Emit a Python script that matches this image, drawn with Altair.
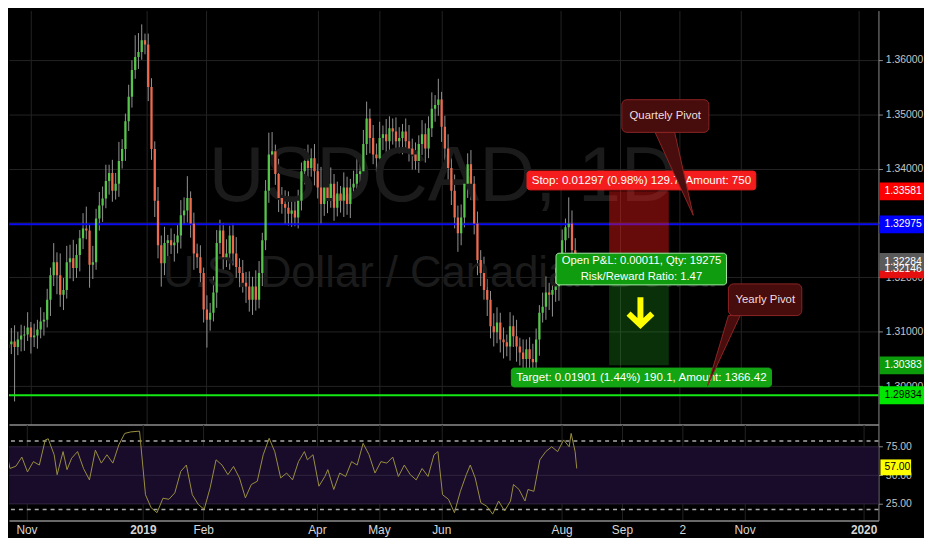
import altair as alt
import pandas as pd

# USDCAD daily candles, bar index 0 = first visible bar (late Oct 2018)
first_open = 1.3070
closes = [
    1.3077, 1.3082, 1.3072, 1.3086, 1.3093, 1.3095, 1.3108, 1.3090, 1.3093, 1.3104,
    1.3119, 1.3122, 1.3159, 1.3204, 1.3228, 1.3204, 1.3168, 1.3177, 1.3228, 1.3235,
    1.3217, 1.3241, 1.3272, 1.3290, 1.3286, 1.3223, 1.3228, 1.3308, 1.3332, 1.3345,
    1.3377, 1.3392, 1.3359, 1.3372, 1.3414, 1.3436, 1.3487, 1.3532, 1.3581, 1.3605,
    1.3614, 1.3636, 1.3628, 1.3550, 1.3436, 1.3341, 1.3259, 1.3226, 1.3263, 1.3268,
    1.3259, 1.3264, 1.3277, 1.3314, 1.3323, 1.3346, 1.3299, 1.3244, 1.3237, 1.3208,
    1.3141, 1.3122, 1.3135, 1.3172, 1.3263, 1.3286, 1.3237, 1.3244, 1.3277, 1.3244,
    1.3219, 1.3208, 1.3190, 1.3183, 1.3159, 1.3183, 1.3159, 1.3208, 1.3268, 1.3359,
    1.3426, 1.3432, 1.3390, 1.3346, 1.3335, 1.3328, 1.3317, 1.3323, 1.3310, 1.3341,
    1.3395, 1.3414, 1.3401, 1.3419, 1.3395, 1.3365, 1.3335, 1.3365, 1.3346, 1.3372,
    1.3328, 1.3354, 1.3341, 1.3365, 1.3335, 1.3365, 1.3372, 1.3390, 1.3395, 1.3445,
    1.3492, 1.3456, 1.3426, 1.3419, 1.3456, 1.3463, 1.3450, 1.3474, 1.3468, 1.3450,
    1.3456, 1.3468, 1.3450, 1.3437, 1.3426, 1.3414, 1.3445, 1.3463, 1.3437, 1.3474,
    1.3510, 1.3517, 1.3527, 1.3477, 1.3437, 1.3401, 1.3359, 1.3310, 1.3281, 1.3310,
    1.3372, 1.3408, 1.3372, 1.3299, 1.3232, 1.3208, 1.3177, 1.3159, 1.3110, 1.3099,
    1.3117, 1.3086, 1.3081, 1.3073, 1.3110, 1.3092, 1.3073, 1.3062, 1.3050, 1.3068,
    1.3050, 1.3044, 1.3086, 1.3135, 1.3146, 1.3172, 1.3168, 1.3177, 1.3183, 1.3208,
    1.3268, 1.3292, 1.3299, 1.3250, 1.32146,
]
# wick lengths in pips above / below the candle body
wick_up = [
    12, 25, 30, 14, 20, 16, 28, 10, 22, 18, 26, 14, 20, 14, 35, 18, 40, 22, 30, 25,
    34, 20, 15, 28, 40, 12, 30, 18, 25, 22, 30, 15, 24, 20, 35, 18, 14, 22, 18, 40,
    35, 29, 12, 20, 16, 14, 25, 18, 30, 10, 22, 16, 20, 28, 24, 40, 12, 20, 18, 22,
    10, 26, 18, 30, 24, 20, 14, 26, 18, 22, 30, 16, 24, 20, 28, 18, 30, 22, 14, 20,
    40, 35, 12, 28, 20, 25, 30, 18, 24, 20, 16, 22, 30, 18, 26, 14, 38, 20, 24, 30,
    18, 22, 14, 28, 20, 16, 24, 30, 18, 26, 31, 18, 24, 20, 30, 16, 28, 22, 18, 26,
    20, 14, 24, 30, 18, 22, 16, 26, 20, 22, 30, 18, 38, 14, 20, 26, 18, 30, 22, 24,
    16, 20, 26, 14, 22, 18, 30, 20, 16, 24, 28, 18, 22, 14, 26, 20, 30, 16, 24, 18,
    22, 28, 20, 14, 26, 30, 18, 22, 35, 24, 20, 16, 48, 24, 22,
]
wick_dn = [
    20, 18, 100, 15, 22, 28, 12, 30, 18, 24, 16, 26, 14, 30, 20, 35, 22, 28, 16, 30,
    24, 18, 30, 20, 16, 42, 26, 14, 22, 30, 18, 25, 20, 16, 24, 14, 22, 18, 20, 16,
    22, 14, 18, 26, 20, 30, 24, 43, 22, 28, 16, 30, 20, 24, 18, 22, 26, 30, 20, 18,
    24, 51, 20, 16, 28, 20, 26, 18, 30, 22, 20, 26, 18, 30, 22, 28, 20, 16, 24, 18,
    22, 16, 20, 26, 18, 30, 22, 24, 16, 20, 18, 24, 30, 16, 26, 20, 38, 22, 28, 18,
    24, 16, 22, 30, 20, 26, 18, 22, 16, 24, 20, 28, 18, 26, 16, 22, 30, 20, 24, 18,
    22, 30, 18, 24, 28, 16, 22, 20, 26, 18, 16, 24, 20, 28, 22, 30, 26, 20, 34, 22,
    18, 26, 30, 20, 28, 24, 18, 30, 22, 26, 20, 24, 30, 18, 26, 20, 28, 24, 18, 20,
    26, 22, 20, 30, 18, 24, 28, 40, 22, 26, 18, 22, 20, 16, 14,
]

# RSI readings (bar position, value)
rsi_bar = [
    0, 1.2, 2.1, 3.9, 5.7, 7.4, 9.2, 11.0, 12.8, 13.7,
    15.5, 16.4, 18.2, 19.4, 20.8, 22.6, 24.4, 26.2, 28.0, 29.8,
    31.5, 33.3, 35.1, 36.9, 38.7, 41.4, 43.2, 44.9, 46.7, 48.5,
    50.3, 52.1, 53.9, 55.6, 57.4, 59.2, 61.0, 62.8, 64.6, 66.4,
    68.2, 69.9, 71.7, 73.5, 75.3, 77.1, 78.9, 80.7, 82.4, 84.2,
    86.0, 87.8, 89.6, 91.4, 92.3, 94.0, 95.8, 97.6, 98.5, 100.3,
    102.1, 103.9, 105.7, 107.4, 109.2, 111.0, 112.8, 114.6, 116.4, 118.2,
    119.9, 121.7, 123.5, 125.3, 127.1, 128.9, 130.7, 131.9, 133.3, 135.1,
    136.9, 138.7, 140.5, 141.7, 143.2, 144.9, 146.7, 148.5, 150.3, 152.1,
    153.9, 154.8, 156.5, 158.3, 159.2, 161.0, 162.8, 164.6, 166.4, 168.2,
    170.0, 171.7, 172.3, 173.5, 174.0,
]
rsi_val = [
    70.8, 68, 56, 58, 66, 53, 62, 59, 81, 82,
    68, 50.6, 70.8, 55, 65, 70.8, 56, 46, 72, 60.7,
    68, 60.7, 76.6, 86.7, 88, 88.7, 33, 21.7, 17.3, 30,
    29, 34.7, 53.5, 59, 33, 24.6, 20.2, 39, 63.6, 59,
    50.6, 57.8, 47.7, 30.3, 42, 44.8, 68, 82.4, 70.8, 47.7,
    52, 46, 62, 70.8, 63.6, 68, 40.5, 49, 55, 37.6,
    52, 49, 62, 59, 78, 68, 52, 62, 60.7, 66,
    49, 59, 50.6, 46, 56, 49, 68, 70.8, 33, 29,
    17.3, 36, 50.6, 59, 47.7, 26, 23, 16, 27.5, 18.8,
    27.5, 42, 37.6, 27.5, 37.6, 36, 63.6, 70.8, 75, 70.8,
    81, 75, 86.7, 70.8, 56,
]
rsi_last = 57.00
rsi_band = [25, 75]
rsi_mid = 50
rsi_dash = [20, 80]

# time axis (bar positions) and its labels
x_ticks = [7.1, 42.4, 60.7, 95.2, 114.0, 132.9, 169.4, 187.7, 206.0, 224.9, 261.0]
x_names = ["Nov", "2019", "Feb", "Apr", "May", "Jun", "Aug", "Sep", "2", "Nov", "2020"]
year_ticks = [42.4, 261.0]
price_ticks = [1.30, 1.31, 1.32, 1.33, 1.34, 1.35, 1.36]
rsi_ticks = [25, 50, 75]

# levels and short position
quarterly_pivot = 1.32975
yearly_pivot = 1.29834
entry = 1.32284
stop = 1.33581
target = 1.30383
pos_from, pos_to = 184.4, 202.7

symbol_title = "USDCAD, 1D"
symbol_desc = "U.S. Dollar / Canadian Dollar"
stop_text = "Stop: 0.01297 (0.98%) 129.7, Amount: 750"
pnl_text = ["Open P&L: 0.00011, Qty: 19275", "Risk/Reward Ratio: 1.47"]
target_text = "Target: 0.01901 (1.44%) 190.1, Amount: 1366.42"
callout_text = ["Quartely Pivot", "Yearly Pivot"]

FONT = "Liberation Sans, Arial, sans-serif"
W, H1, H2 = 878, 418, 97
X_DOM = [1.8, 265.5]
P_DOM = [1.29296, 1.36903]
R_DOM = [10.4, 94.5]
GRID = "#232323"
FRAME = "#8c8c8c"

xs = alt.Scale(domain=X_DOM, nice=False, zero=False)
ps = alt.Scale(domain=P_DOM, nice=False, zero=False)
rs = alt.Scale(domain=R_DOM, nice=False, zero=False)

opens = [first_open] + closes[:-1]
candles = pd.DataFrame({"t": range(len(closes)), "open": opens, "close": closes})
body_hi = candles[["open", "close"]].max(axis=1)
body_lo = candles[["open", "close"]].min(axis=1)
candles["high"] = body_hi + pd.Series(wick_up) / 10000
candles["low"] = body_lo - pd.Series(wick_dn) / 10000
candles["col"] = ["#55c54b" if c >= o else "#ec6b4f" for o, c in zip(opens, closes)]

# same axis objects on every layer so the shared axes merge cleanly
x_main_axis = alt.Axis(values=x_ticks, labels=False, ticks=False, domain=True,
                       domainColor=FRAME, domainWidth=1.5, grid=True, gridColor=GRID, title=None)
y_main_axis = alt.Axis(orient="right", values=price_ticks, format=".5f", grid=True,
                       gridColor=GRID, domain=True, domainColor=FRAME, ticks=True,
                       tickColor="#8a8a8a", tickSize=4, labelColor="#c4c4c4",
                       labelFont=FONT, labelFontSize=10.5, labelPadding=3,
                       labelOverlap=False, labelFlush=False, title=None)

label_expr = " : ".join(f"datum.value == {v} ? '{n}'" for v, n in zip(x_ticks, x_names)) + " : ''"
bold_test = " || ".join(f"datum.value == {v}" for v in year_ticks)
x_rsi_axis = alt.Axis(values=x_ticks, labelExpr=label_expr, ticks=False, domain=True,
                      domainColor=FRAME, domainWidth=1.5, grid=True, gridColor=GRID,
                      labelColor="#d6d6d6", labelFont=FONT, labelFontSize=12, labelPadding=4,
                      labelOverlap=False, labelFlush=False,
                      labelFontWeight={"condition": {"test": bold_test, "value": "bold"}, "value": "normal"},
                      title=None)
y_rsi_axis = alt.Axis(orient="right", values=rsi_ticks, format=".2f", grid=False, domain=True,
                      domainColor=FRAME, ticks=True, tickColor="#8a8a8a", tickSize=4,
                      labelColor="#c4c4c4", labelFont=FONT, labelFontSize=10.5,
                      labelPadding=3, labelOverlap=False, labelFlush=False, title=None)


def TX(field):
    return alt.X(field, type="quantitative", scale=xs, axis=x_main_axis)


def PY(field):
    return alt.Y(field, type="quantitative", scale=ps, axis=y_main_axis)


def RX(field):
    return alt.X(field, type="quantitative", scale=xs, axis=x_rsi_axis)


def RY(field):
    return alt.Y(field, type="quantitative", scale=rs, axis=y_rsi_axis)


# ---------------- price panel ----------------
wicks = alt.Chart(candles).mark_rule(color="#949494", strokeWidth=1, clip=True).encode(
    x=TX("t"), y=PY("low"), y2="high",
)

mark_title = alt.Chart(pd.DataFrame({"txt": [symbol_title]})).mark_text(
    font=FONT, fontSize=78, color="#1b1b1b", baseline="alphabetic", align="center"
).encode(text="txt:N", x=alt.value(438), y=alt.value(192))

mark_desc = alt.Chart(pd.DataFrame({"txt": [symbol_desc]})).mark_text(
    font=FONT, fontSize=44, color="#1b1b1b", baseline="alphabetic", align="center"
).encode(text="txt:N", x=alt.value(438), y=alt.value(279))

levels = alt.Chart(pd.DataFrame({"price": [quarterly_pivot, yearly_pivot],
                                 "col": ["#0b0bf2", "#14e814"]})).mark_rule(strokeWidth=2).encode(
    y=PY("price"), color=alt.Color("col:N", scale=None),
)

zones = alt.Chart(pd.DataFrame({
    "x": [pos_from, pos_from], "x2": [pos_to, pos_to],
    "y": [entry, target], "y2": [stop, entry],
    "col": ["#ff1a1a", "#22c022"], "op": [0.40, 0.25],
})).mark_rect().encode(
    x=TX("x"), x2="x2", y=PY("y"), y2="y2",
    color=alt.Color("col:N", scale=None),
    opacity=alt.Opacity("op:Q", scale=None, legend=None),
)

bodies = alt.Chart(candles).mark_bar(size=2.3, clip=True).encode(
    x=TX("t"), y=PY("open"), y2="close",
    color=alt.Color("col:N", scale=None),
)

boxes = alt.Chart(pd.DataFrame({
    "x": [159.2, 168.1, 154.4], "x2": [229.4, 220.4, 234.2],
    "y": [1.33608, 1.31862, 1.29987], "y2": [1.33953, 1.32444, 1.30333],
    "fill": ["#f41c1c", "#0f9c0f", "#13a513"], "line": ["#f41c1c", "#a6e6a6", "#13a513"],
})).mark_rect(cornerRadius=3, strokeWidth=1).encode(
    x=TX("x"), x2="x2", y=PY("y"), y2="y2",
    fill=alt.Fill("fill:N", scale=None), stroke=alt.Stroke("line:N", scale=None),
)

box_text = alt.Chart(pd.DataFrame({
    "t": [194.3, 194.3, 194.3, 194.3],
    "p": [1.33782, 1.32300, 1.32010, 1.30160],
    "txt": [stop_text, pnl_text[0], pnl_text[1], target_text],
    "fs": [11.7, 11.4, 11.4, 11.7],
})).mark_text(font=FONT, color="#ffffff", align="center", baseline="middle").encode(
    x=TX("t"), y=PY("p"), text="txt:N",
    size=alt.Size("fs:Q", scale=None, legend=None),
)

arrow = alt.Chart(pd.DataFrame({"t": [194.0], "p": [1.3136]})).mark_point(
    shape="M0,-1L0,0.8M-0.8,0.1L0,0.85L0.8,0.1", size=900, filled=False,
    color="#ffff00", strokeWidth=6, opacity=1,
).encode(x=TX("t"), y=PY("p"))

wedges = alt.Chart(pd.DataFrame({
    "id": ["q", "q", "y", "y"],
    "p": [1.3314, 1.34665, 1.3001, 1.31298],
    "a": [210.2, 198.5, 214.6, 221.0],
    "b": [210.2, 204.5, 214.6, 224.6],
})).mark_area(orient="horizontal", color="#4a0d0d", stroke="#8c2424", strokeWidth=1, opacity=1).encode(
    y=PY("p"), x=TX("a"), x2="b", detail="id:N",
)

callouts = alt.Chart(pd.DataFrame({
    "x": [188.3, 221.0], "x2": [215.0, 243.5],
    "y": [1.34665, 1.31298], "y2": [1.35265, 1.31880],
})).mark_rect(cornerRadius=5, fill="#470c0c", stroke="#8c2424", strokeWidth=1).encode(
    x=TX("x"), x2="x2", y=PY("y"), y2="y2",
)

callout_labels = alt.Chart(pd.DataFrame({
    "t": [201.6, 232.3], "p": [1.34965, 1.31589], "txt": callout_text,
})).mark_text(font=FONT, fontSize=11.5, color="#f0dede", align="center", baseline="middle").encode(
    x=TX("t"), y=PY("p"), text="txt:N",
)

half = 9 * (P_DOM[1] - P_DOM[0]) / H1
tags_df = pd.DataFrame({
    "price": [stop, quarterly_pivot, closes[-1], entry, target, yearly_pivot],
    "fill": ["#ff0000", "#0000ff", "#e41010", "#5a5a5a", "#0b9b0b", "#00e600"],
    "ink": ["#ffffff", "#ffffff", "#ffffff", "#ffffff", "#ffffff", "#000000"],
})
tags_df["lo"] = tags_df["price"] - half
tags_df["hi"] = tags_df["price"] + half
tags_df["label"] = tags_df["price"].map(lambda v: f"{v:.5f}")

tag_rects = alt.Chart(tags_df).mark_rect().encode(
    x=alt.value(W + 1), x2=alt.value(W + 46),
    y=PY("lo"), y2="hi",
    fill=alt.Fill("fill:N", scale=None),
)
tag_text = alt.Chart(tags_df).mark_text(font=FONT, fontSize=10.5, align="left", baseline="middle").encode(
    x=alt.value(W + 6), y=PY("price"), text="label:N",
    color=alt.Color("ink:N", scale=None),
)

main = alt.layer(
    wicks, mark_title, mark_desc, levels, zones, bodies, boxes, box_text, arrow,
    wedges, callouts, callout_labels, tag_rects, tag_text,
).properties(width=W, height=H1)

# ---------------- RSI panel ----------------
rsi_df = pd.DataFrame({"t": rsi_bar, "rsi": rsi_val})

band = alt.Chart(pd.DataFrame({"lo": [rsi_band[0]], "hi": [rsi_band[1]]})).mark_rect(color="#190b2a").encode(
    x=alt.value(0), x2=alt.value(W), y=RY("lo"), y2="hi",
)
band_lines = alt.Chart(pd.DataFrame({"v": rsi_band + [rsi_mid]})).mark_rule(
    color="#2f2540", strokeWidth=1
).encode(y=RY("v"))
dashes = alt.Chart(pd.DataFrame({"v": rsi_dash})).mark_rule(
    color="#a9a9a9", strokeWidth=1.5, strokeDash=[4, 4]
).encode(y=RY("v"))

rsi_line = alt.Chart(rsi_df).mark_line(color="#9a9040", strokeWidth=1, clip=True).encode(
    x=RX("t"), y=RY("rsi"),
)

rhalf = 8 * (R_DOM[1] - R_DOM[0]) / H2
rsi_tag_df = pd.DataFrame({"v": [rsi_last], "lo": [rsi_last - rhalf], "hi": [rsi_last + rhalf],
                           "label": [f"{rsi_last:.2f}"]})
rsi_tag = alt.Chart(rsi_tag_df).mark_rect(color="#ffff00").encode(
    x=alt.value(W + 2), x2=alt.value(W + 33), y=RY("lo"), y2="hi",
)
rsi_tag_text = alt.Chart(rsi_tag_df).mark_text(font=FONT, fontSize=10.5, color="#000000",
                                               align="left", baseline="middle").encode(
    x=alt.value(W + 6), y=RY("v"), text="label:N",
)

rsi = alt.layer(band, band_lines, dashes, rsi_line, rsi_tag, rsi_tag_text).properties(width=W, height=H2)

chart = alt.vconcat(main, rsi, spacing=0, padding=0, background="#000000").configure_view(strokeWidth=0)

chart.save("out.html", embed_options={"renderer": "svg", "actions": False})
